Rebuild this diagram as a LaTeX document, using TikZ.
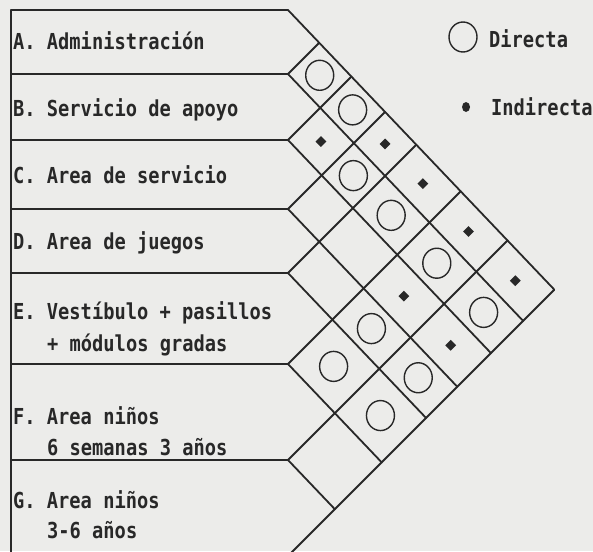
\documentclass[tikz,border=0pt]{standalone}
\usepackage{fontspec}
\newfontfamily\dotfont[FakeStretch=0.85]{DejaVu Sans Mono}
\usetikzlibrary{calc,shapes.geometric}
\definecolor{ink}{RGB}{40,40,40}
\definecolor{paper}{RGB}{236,236,234}
\begin{document}
\begin{tikzpicture}[x=1pt,y=-1pt,
  gridline/.style={draw=ink,line width=1.8pt,line cap=round,line join=round},
  rel/.style={ellipse,draw=ink,line width=1.4pt,minimum width=28pt,minimum height=30pt,inner sep=0pt},
  ind/.style={diamond,fill=ink,minimum width=11pt,minimum height=11pt,inner sep=0pt},
  indleg/.style={ellipse,fill=ink,minimum width=8pt,minimum height=10pt,inner sep=0pt},
  lbl/.style={font={\dotfont\bfseries\fontsize{22pt}{26pt}\selectfont},text=ink,anchor=base west,inner sep=0pt}]
\useasboundingbox[fill=paper] (0,0) rectangle (593,551);
\clip (0,0) rectangle (593,551);
\def\ys{{10,74,140,209,273,364,460,556}}
\foreach \i in {0,...,7}{
  \pgfmathsetmacro\yi{\ys[\i]}
  \coordinate (L-\i) at (11,\yi);
  \foreach \j in {\i,...,7}{
    \pgfmathsetmacro\yj{\ys[\j]}
    \pgfmathsetmacro\tv{(\yj-\yi)/2.05}
    \coordinate (V-\i-\j) at ({288+\tv},{\yi+1.05*\tv});
  }
}
% frame and grid
\draw[gridline] (L-0) -- (L-7);
\foreach \i in {0,...,7} \draw[gridline] (L-\i) -- (V-\i-\i);
\foreach \i in {0,...,6} \draw[gridline] (V-\i-\i) -- (V-\i-7);
\foreach \j in {1,...,7} \draw[gridline] (V-\j-\j) -- (V-0-\j);
% direct relations
\foreach \i/\j in {1/2,1/3,2/4,2/5,2/6,2/7,4/6,4/7,5/6,5/7}{
  \pgfmathtruncatemacro\a{\i-1}
  \pgfmathtruncatemacro\b{\j-1}
  \node[rel] (c-\i-\j) at ($(V-\a-\b)!0.5!(V-\i-\j)$) {};
}
% indirect relations
\foreach \i/\j in {1/4,1/5,1/6,1/7,2/3,3/6,3/7}{
  \pgfmathtruncatemacro\a{\i-1}
  \pgfmathtruncatemacro\b{\j-1}
  \node[ind] (d-\i-\j) at ($(V-\a-\b)!0.5!(V-\i-\j)$) {};
}
% labels
\node[lbl] (tA) at (13,49) {A. Administración};
\node[lbl] (tB) at (13,116) {B. Servicio de apoyo};
\node[lbl] (tC) at (13,183) {C. Area de servicio};
\node[lbl] (tD) at (13,249) {D. Area de juegos};
\node[lbl] (tE1) at (13,319) {E. Vestíbulo + pasillos};
\node[lbl] (tE2) at (47,351) {+ módulos gradas};
\node[lbl] (tF1) at (13,424) {F. Area niños};
\node[lbl] (tF2) at (47,455) {6 semanas 3 años};
\node[lbl] (tG1) at (13,508) {G. Area niños};
\node[lbl] (tG2) at (47,538) {3-6 años};
% legend
\node[rel] (legD) at (463,37) {};
\node[lbl] (legDt) at (489,48) {Directa};
\node[indleg] (legI) at (466,107) {};
\node[lbl] (legIt) at (491,115) {Indirecta};
\end{tikzpicture}
\end{document}
